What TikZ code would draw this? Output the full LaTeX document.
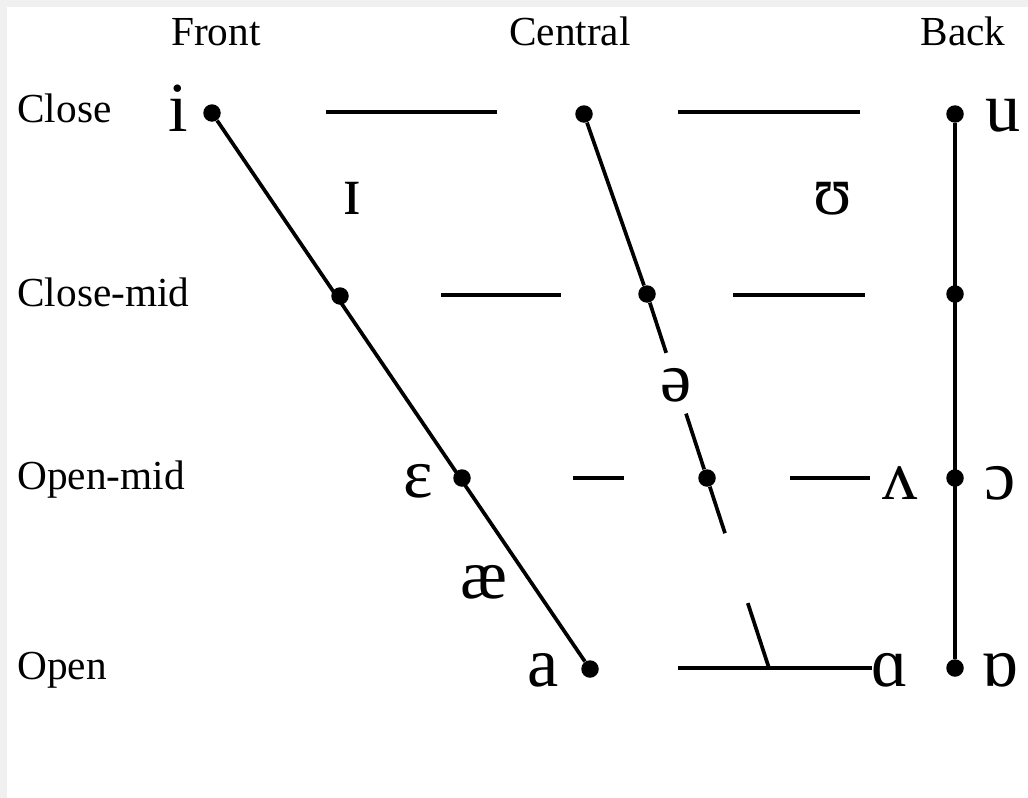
\documentclass[tikz,border=0pt]{standalone}
\usepackage{fontspec}
\setmainfont{Liberation Serif}
\usetikzlibrary{calc}

\begin{document}
\begin{tikzpicture}[x=0.02cm,y=-0.02cm,
  every node/.style={font=\fontsize{23.5}{27}\selectfont},
  heading/.style={anchor=base,inner sep=0pt},
  rowname/.style={anchor=base west,inner sep=0pt},
  vowel/.style={anchor=base,inner sep=0pt,font=\fontsize{40}{44}\selectfont},
  dot/.style={circle,fill,inner sep=0pt,minimum size=0.35cm},
  rule/.style={line width=2.1pt}]
 \fill[black!6] (0,0) rectangle (1028,798);
 \fill[white] (7,7) rectangle (1028,798);
 \useasboundingbox (0,0) rectangle (1028,798);
 % column and row names
 \node[heading] (front) at (216,45) {Front};
 \node[heading] (central) at (570,45) {Central};
 \node[heading] (back) at (963,45) {Back};
 \node[rowname] (close) at (17,122) {Close};
 \node[rowname] (closemid) at (17,306) {Close-mid};
 \node[rowname] (openmid) at (17,489) {Open-mid};
 \node[rowname] (open) at (17,679) {Open};
 % dots
 \node[dot] (di) at (212,113) {};
 \node[dot] (dc) at (584,114) {};
 \node[dot] (du) at (955,114) {};
 \node[dot] (de) at (340,296) {};
 \node[dot] (dcm) at (647,294) {};
 \node[dot] (do) at (955,294) {};
 \node[dot] (dE) at (462,478) {};
 \node[dot] (dom) at (707,478) {};
 \node[dot] (dO) at (955,478) {};
 \node[dot] (da) at (590,669) {};
 \node[dot] (dA) at (955,668) {};
 % vowel symbols
 \node[vowel] (i) at (178,131) {i};
 \node[vowel] (u) at (1003,131) {u};
 \node[vowel] (I) at (352,214) {ɪ};
 \node[vowel] (U) at (833,214) {ʊ};
 \node[vowel] (schwa) at (676,401) {ə};
 \node[vowel] (E) at (418,497) {ɛ};
 \node[vowel] (V) at (900,499) {ʌ};
 \node[vowel] (O) at (1000,499) {ɔ};
 \node[vowel] (ae) at (484,598) {æ};
 \node[vowel] (a) at (543,686) {a};
 \node[vowel] (A) at (890,686) {ɑ};
 \node[vowel] (Q) at (1000,686) {ɒ};
 % outline of the chart
 \draw[rule] (di) -- (da);
 \draw[rule] (du) -- (dA);
 \draw[rule] (dc) -- (dcm) -- ($(dcm)!0.32!(dom)$);
 \draw[rule] ($(dcm)!0.65!(dom)$) -- (dom) -- ($(dcm)!1.3!(dom)$);
 \draw[rule] ($(dcm)!1.68!(dom)$) -- ($(dcm)!2.027!(dom)$);
 % broken horizontals
 \draw[rule] (326,112) -- (497,112) (678,112) -- (860,112);
 \draw[rule] (441,295) -- (561,295) (733,295) -- (865,295);
 \draw[rule] (573,478) -- (624,478) (790,478) -- (870,478);
 \draw[rule] (678,668) -- (872,668);
\end{tikzpicture}
\end{document}
